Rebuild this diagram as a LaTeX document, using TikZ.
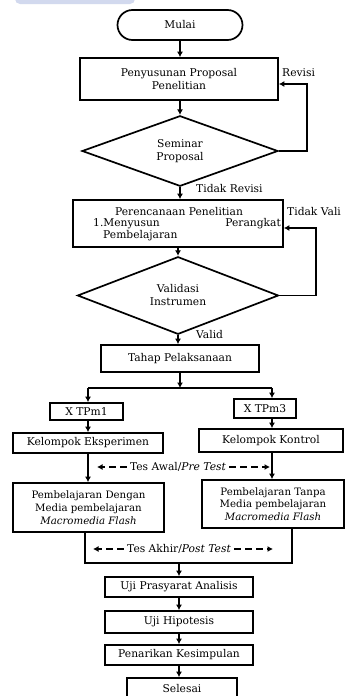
\documentclass[tikz,border=0pt]{standalone}
\usepackage{fontspec}
\setmainfont{DejaVu Serif}
\usetikzlibrary{shapes.geometric,arrows.meta}
\definecolor{bandblue}{RGB}{210,217,238}
\begin{document}
\begin{tikzpicture}[x=1pt,y=-1pt,
 font=\fontsize{10.7}{13}\selectfont,
 box/.style={draw,line width=1.7pt,rectangle,inner sep=0pt,align=center},
 dia/.style={draw,line width=1.7pt,diamond,inner sep=0pt,align=center},
 arr/.style={line width=1.7pt,-{Latex[length=5.5pt,width=6pt]}},
 ln/.style={line width=1.7pt},
 darr/.style={line width=1.3pt,dash pattern=on 7pt off 4pt,-{Latex[length=5.5pt,width=6pt]}},
 lbl/.style={inner sep=0pt},
 small/.style={font=\fontsize{10.2}{12.8}\selectfont}]
\clip (0,0) rectangle (345,696);
\fill[white] (0,0) rectangle (345,696);
\fill[bandblue, rounded corners=5pt] (15,-10) rectangle (135,4);

\node[box,rounded corners=15pt,minimum width=125pt,minimum height=30pt] (mulai) at (180,25) {Mulai};
\node[box,minimum width=198pt,minimum height=42pt] (prop) at (179,79) {Penyusunan Proposal\\Penelitian};
\node[dia,minimum width=196pt,minimum height=68pt] (sem) at (180,151) {Seminar\\Proposal};
\draw[arr] (mulai) -- (mulai |- prop.north);
\draw[arr] (prop.south -| sem) -- (sem.north);
\coordinate (revc) at (307,84);
\draw[arr] (sem.east) -| (revc) -- (prop.east |- revc);
\node[lbl,anchor=west] (revlbl) at (282,73) {Revisi};

\node[box,minimum width=210pt,minimum height=47pt] (per) at (178,223.5) {};
\node[lbl] (pert1) at (179,211.5) {Perencanaan Penelitian};
\node[lbl,anchor=west] (pert2) at (93,223.5) {1.Menyusun};
\node[lbl,anchor=east] (pert3) at (281,223.5) {Perangkat};
\node[lbl,anchor=west] (pert4) at (103,236) {Pembelajaran};
\draw[arr] (sem.south) -- (sem.south |- per.north);
\node[lbl,anchor=west] (trev) at (196,189) {Tidak Revisi};

\node[dia,minimum width=201pt,minimum height=67pt] (val) at (178,295.5) {Validasi\\Instrumen};
\draw[arr] (per.south) -- (val.north);
\coordinate (tvc) at (316,228);
\draw[arr] (val.east) -| (tvc) -- (per.east |- tvc);
\node[lbl,anchor=west] (tval) at (287,212) {Tidak Vali};
\node[lbl,anchor=west] (valid) at (196,335) {Valid};

\node[box,minimum width=158pt,minimum height=27pt] (tahap) at (180,358.5) {Tahap Pelaksanaan};
\draw[arr] (val.south) -- (val.south |- tahap.north);
\coordinate (sp) at (180,388);
\coordinate (spl) at (88,388);
\coordinate (spr) at (272,388);
\draw[arr] (tahap.south) -- (sp);
\draw[ln] (spl) -- (spr);

\node[box,minimum width=73pt,minimum height=17pt] (x1) at (86.5,411.5) {X TPm1};
\node[box,minimum width=62pt,minimum height=19pt] (x3) at (265,408.5) {X TPm3};
\draw[arr] (spl) -- (spl |- x1.north);
\draw[arr] (spr) -- (spr |- x3.north);

\node[box,minimum width=150pt,minimum height=20pt] (eks) at (88,443) {Kelompok Eksperimen};
\node[box,minimum width=144pt,minimum height=23pt] (kon) at (271,440.5) {Kelompok Kontrol};
\draw[arr] (x1.south -| spl) -- (eks.north -| spl);
\draw[arr] (x3.south -| spr) -- (kon.north -| spr);

\node[box,small,minimum width=151pt,minimum height=49pt] (pd) at (88.5,507.5) {Pembelajaran Dengan\\Media pembelajaran\\\textit{Macromedia Flash}};
\node[box,small,minimum width=142pt,minimum height=48pt] (pt) at (273,504) {Pembelajaran Tanpa\\Media pembelajaran\\\textit{Macromedia Flash}};
\draw[arr] (eks.south -| spl) -- (pd.north -| spl);
\draw[arr] (kon.south -| spr) -- (pt.north -| spr);

\node[lbl,inner sep=3pt] (pre) at (178,467) {Tes Awal/\textit{Pre Test}};
\coordinate (prel) at (97,467);
\coordinate (prer) at (270,467);
\draw[darr] (pre.west) -- (prel);
\draw[darr] (pre.east) -- (prer);

\coordinate (bl) at (85,563);
\coordinate (br) at (292,563);
\draw[ln] (pd.south -| bl) -- (bl) -- (br) -- (pt.south -| br);
\node[lbl,inner sep=3pt] (post) at (179,549) {Tes Akhir/\textit{Post Test}};
\coordinate (postl) at (93,549);
\coordinate (postr) at (273,549);
\draw[darr] (post.west) -- (postl);
\draw[darr] (post.east) -- (postr);

\coordinate (bm) at (179,563);
\node[box,minimum width=148pt,minimum height=20pt] (up) at (179,587) {Uji Prasyarat Analisis};
\node[box,minimum width=148pt,minimum height=22pt] (uh) at (179,622) {Uji Hipotesis};
\node[box,minimum width=148pt,minimum height=20pt] (pk) at (179,655) {Penarikan Kesimpulan};
\node[box,minimum width=110pt,minimum height=22pt] (sel) at (182,689) {Selesai};
\draw[arr] (bm) -- (up.north);
\draw[arr] (up) -- (uh);
\draw[arr] (uh) -- (pk);
\draw[arr] (pk.south) -- (pk.south |- sel.north);
\end{tikzpicture}
\end{document}
